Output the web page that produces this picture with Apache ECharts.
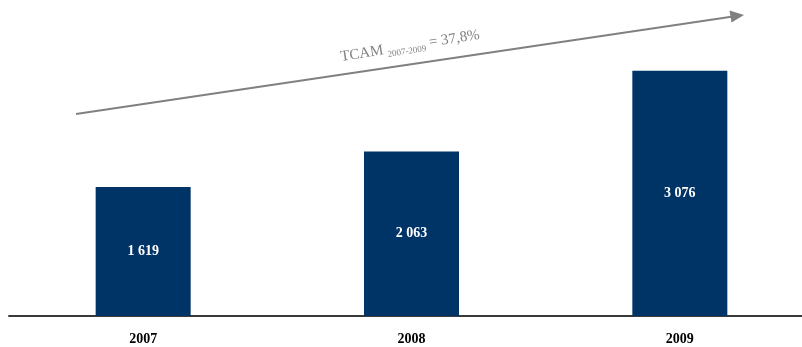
<!DOCTYPE html>
<html lang="fr">
  <head>
    <meta charset="utf-8" />
    <script src="https://cdn.jsdelivr.net/npm/echarts@6/dist/echarts.min.js"></script>
    <title>TCAM 2007-2009</title>
    <style>
      html, body { margin: 0; padding: 0; background: #fff; }
      #chart { width: 802px; height: 347px; }
    </style>
  </head>
  <body>
    <div id="chart"></div>
    <script>
      var years = ['2007', '2008', '2009']
      var values = [1619, 2063, 3076]
      var growthLabel = ['TCAM ', '2007-2009', ' = 37,8%']

      // french style thousands: 1 619
      function fmt(v) {
        return String(v).replace(/\B(?=(\d{3})+(?!\d))/g, ' ')
      }

      var chart = echarts.init(document.getElementById('chart'))
      chart.setOption({
        animation: false,
        // grid runs past the right edge, so the bands match the original spacing
        grid: { left: 9, top: 0, right: -12, bottom: 31, outerBoundsMode: 'none', containLabel: false },
        xAxis: {
          type: 'category',
          data: years,
          axisLine: { lineStyle: { color: '#3a3a3a', width: 2 } },
          axisTick: { show: false },
          axisLabel: {
            margin: 16,
            color: '#000',
            fontFamily: 'Liberation Serif',
            fontWeight: 'bold',
            fontSize: 14
          }
        },
        yAxis: {
          type: 'value',
          min: 0,
          max: 3965,
          show: false,
          splitLine: { show: false }
        },
        series: [{
          type: 'bar',
          data: values,
          barWidth: 95,
          itemStyle: { color: '#003366' },
          label: {
            show: true,
            position: 'inside',
            color: '#fff',
            fontFamily: 'Liberation Serif',
            fontWeight: 'bold',
            fontSize: 14,
            formatter: function (p) { return fmt(p.value) }
          }
        }],
        graphic: [
          {
            type: 'polyline',
            shape: { points: [[76, 114], [733, 16.5]] },
            style: { stroke: '#808080', lineWidth: 2, fill: null }
          },
          {
            type: 'polygon',
            shape: { points: [[744, 15], [731.5, 22.5], [729.5, 10.5]] },
            style: { fill: '#808080' }
          },
          {
            type: 'text',
            x: 410,
            y: 46,
            rotation: 0.16,
            style: {
              text: '{a|' + growthLabel[0] + '}{s|' + growthLabel[1] + '}{a|' + growthLabel[2] + '}',
              align: 'center',
              verticalAlign: 'middle',
              rich: {
                a: { fontFamily: 'Liberation Serif', fontSize: 15, fill: '#808080', verticalAlign: 'bottom' },
                s: { fontFamily: 'Liberation Serif', fontSize: 9, fill: '#808080', verticalAlign: 'bottom', padding: [0, 0, -2, 0] }
              }
            }
          }
        ]
      })
    </script>
  </body>
</html>
